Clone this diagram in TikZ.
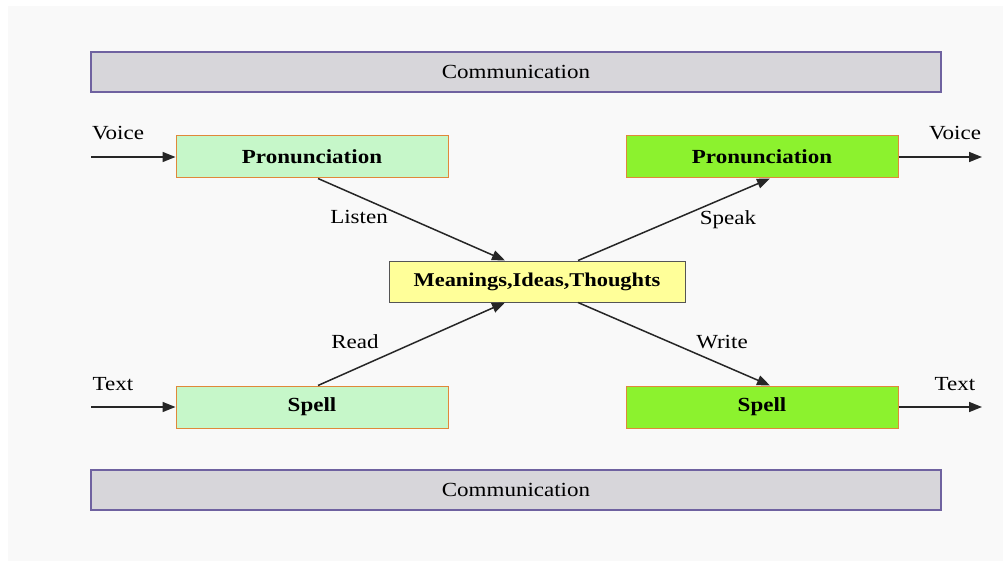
\documentclass[tikz,border=0pt]{standalone}
\usepackage{fontspec}
\setmainfont{Liberation Serif}[FakeStretch=1.15]
\usetikzlibrary{arrows.meta}
\definecolor{bgc}{HTML}{F9F9F9}
\definecolor{barfill}{HTML}{D7D6DA}
\definecolor{bardraw}{HTML}{6F62A0}
\definecolor{lgreen}{HTML}{C6F7C9}
\definecolor{dgreen}{HTML}{8CF22E}
\definecolor{boxdraw}{HTML}{E0883A}
\definecolor{yel}{HTML}{FFFF99}
\definecolor{yeldraw}{HTML}{555555}
\begin{document}
\begin{tikzpicture}[x=1pt,y=-1pt,
  every node/.style={font=\fontsize{20}{22}\selectfont, inner sep=0pt},
  bar/.style={draw=bardraw, line width=1.6pt, fill=barfill, minimum width=850pt, minimum height=40pt},
  inbox/.style={draw=boxdraw, line width=1pt, fill=lgreen, minimum width=272pt, minimum height=42pt, font=\fontsize{20}{22}\selectfont\bfseries},
  outbox/.style={draw=boxdraw, line width=1pt, fill=dgreen, minimum width=272pt, minimum height=42pt, font=\fontsize{20}{22}\selectfont\bfseries},
  midbox/.style={draw=yeldraw, line width=1pt, fill=yel, minimum width=296pt, minimum height=41pt, font=\fontsize{19.5}{22}\selectfont\bfseries},
  conn/.style={line width=1.5pt, draw=black!85, -{Triangle[length=13pt,width=10pt]}},
  lbl/.style={text=black}]
\fill[white] (0,0) rectangle (1003,561);
\fill[bgc] (8,6) rectangle (1003,561);
\node[bar] (top) at (516,72) {Communication};
\node[bar] (bot) at (516,490) {Communication};
\node[inbox] (pl) at (312,157) {Pronunciation};
\node[inbox] (sl) at (312,407) {Spell};
\node[outbox] (pr) at (762,157) {Pronunciation};
\node[outbox] (sr) at (762,407) {Spell};
\node[midbox] (mid) at (537,281.5) {Meanings,Ideas,Thoughts};
\coordinate (vin) at (91,157);
\coordinate (tin) at (91,407);
\coordinate (vout) at (982,157);
\coordinate (tout) at (982,407);
\draw[conn] (vin) -- (pl.west);
\draw[conn] (tin) -- (sl.west);
\draw[conn] (pr.east) -- (vout);
\draw[conn] (sr.east) -- (tout);
\draw[conn] ([xshift=6pt]pl.south) -- ([xshift=-32pt]mid.north);
\draw[conn] ([xshift=6pt]sl.north) -- ([xshift=-32pt]mid.south);
\draw[conn] ([xshift=41pt]mid.north) -- ([xshift=8pt]pr.south);
\draw[conn] ([xshift=41pt]mid.south) -- ([xshift=8pt]sr.south |- sr.north);
\node[lbl] (lv1) at (118,133) {Voice};
\node[lbl] (lt1) at (113,384) {Text};
\node[lbl] (lv2) at (955,133) {Voice};
\node[lbl] (lt2) at (955,384) {Text};
\node[lbl] (ll) at (359,217) {Listen};
\node[lbl] (lr) at (355,342) {Read};
\node[lbl] (lsp) at (728,220) {Speak};
\node[lbl] (lw) at (722,342) {Write};
\end{tikzpicture}
\end{document}
